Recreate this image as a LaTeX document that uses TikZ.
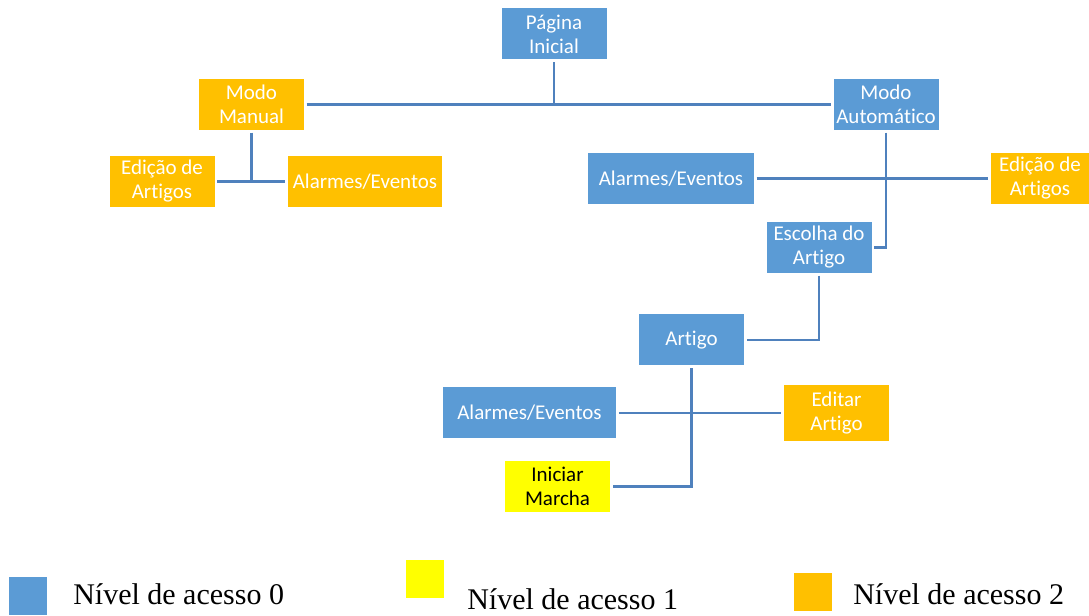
\documentclass[tikz,border=0pt]{standalone}
\usepackage{fontspec}
\setmainfont{Liberation Serif}
\newfontfamily\boxfont[Ligatures=NoCommon, Contextuals=NoAlternate]{Carlito}
\definecolor{lvlblue}{HTML}{5B9BD5}
\definecolor{lvlyellow}{HTML}{FFFF00}
\definecolor{lvlorange}{HTML}{FFC000}
\definecolor{linkblue}{HTML}{4F81BD}
\begin{document}
\begin{tikzpicture}[x=0.75pt,y=-0.75pt,
  box/.style={inner sep=0pt, outer sep=2pt, minimum width=78.75pt, minimum height=38.25pt, align=center, font=\boxfont\fontsize{15.75}{18}\selectfont},
  lvl0/.style={box, fill=lvlblue, text=white},
  lvl1/.style={box, fill=lvlyellow, text=black},
  lvl2/.style={box, fill=lvlorange, text=white},
  link/.style={draw=linkblue, line width=2.2pt},
  legend/.style={anchor=base west, inner sep=0pt, font=\fontsize{22.5}{27}\selectfont}]
\useasboundingbox (0,0) rectangle (1089,616);
\node[lvl0] (ini) at (554,34) {Página\\Inicial};
\node[lvl2] (manual) at (251.5,104.5) {Modo\\Manual};
\node[lvl0] (auto) at (886,104.5) {Modo\\Automático};
\node[lvl2] (edm) at (162,181.5) {Edição de\\Artigos};
\node[lvl2, minimum width=115.5pt] (alm) at (365,181.5) {Alarmes/Eventos};
\node[lvl0, minimum width=124.5pt] (ala) at (671,178.5) {Alarmes/Eventos};
\node[lvl2, minimum width=73.5pt] (eda) at (1040,178.5) {Edição de\\Artigos};
\node[lvl0] (esc) at (819,247.5) {Escolha do\\Artigo};
\node[lvl0] (art) at (691.5,340) {Artigo};
\node[lvl0, minimum width=130pt] (alb) at (529.5,413) {Alarmes/Eventos};
\node[lvl2, minimum height=42pt] (edt) at (836.5,413) {Editar\\Artigo};
\node[lvl1] (inm) at (557.5,486.5) {Iniciar\\Marcha};
\draw[link] (ini) -- (ini |- manual);
\draw[link] (manual) -- (auto);
\draw[link] (manual) -- (manual |- edm);
\draw[link] (edm) -- (alm);
\draw[link] (auto) |- (esc);
\draw[link] (ala) -- (eda);
\draw[link] (esc) |- (art);
\draw[link] (art) |- (inm);
\draw[link] (alb) -- (edt);
% legenda
\node[fill=lvlblue, inner sep=0pt, minimum size=28.5pt] (key0) at (28,596) {};
\node[legend] (txt0) at (73,604) {Nível de acesso 0};
\node[fill=lvlyellow, inner sep=0pt, minimum size=28.5pt] (key1) at (425,579) {};
\node[legend] (txt1) at (467,609) {Nível de acesso 1};
\node[fill=lvlorange, inner sep=0pt, minimum size=28.5pt] (key2) at (813,592) {};
\node[legend] (txt2) at (853,604) {Nível de acesso 2};
\end{tikzpicture}
\end{document}
